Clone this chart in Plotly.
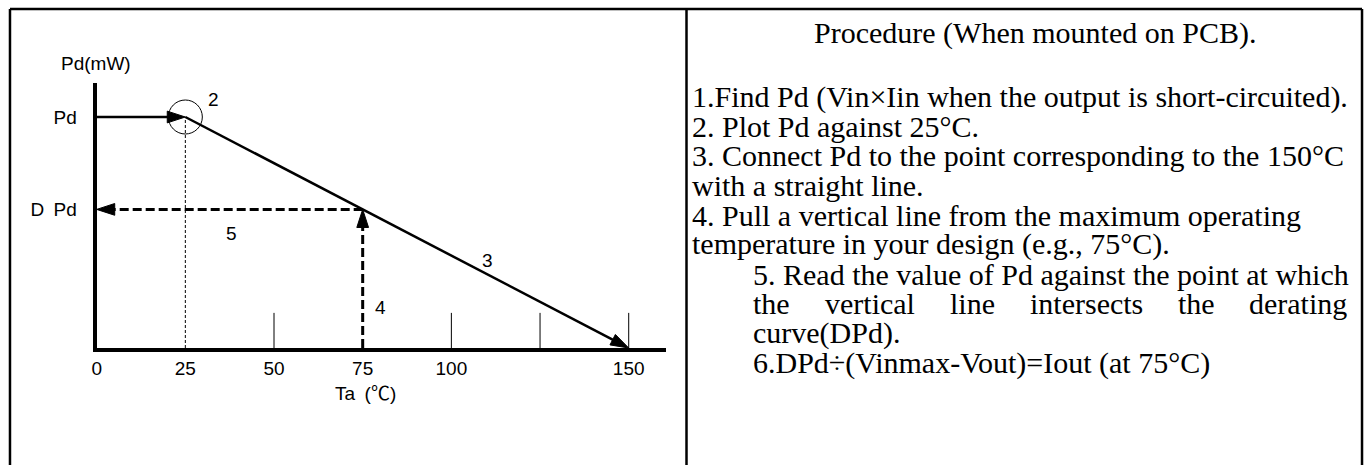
import plotly.graph_objects as go

W, H = 1368, 465

# ---------------- data ----------------
tick_temps = [0, 25, 50, 75, 100, 125, 150]
tick_labels = ["0", "25", "50", "75", "100", "", "150"]
minor_tick_temps = [50, 100, 125, 150]
minor_tick_height = 15.2

pd_value = 100          # Pd (relative units)
t_ref = 25              # Pd plotted against 25 °C
t_zero = 150            # derating reaches 0 at 150 °C
t_design = 75           # example max operating temperature
dpd_value = 60          # derated Pd read at 75 °C

derate_T = [t_ref, t_zero]
derate_P = [pd_value, 0]

y_tick_vals = [dpd_value, pd_value]
y_tick_text = ["D\u2002Pd", "Pd"]

procedure_title = "Procedure (When mounted on PCB)."
procedure_lines = [
    "1.Find Pd (Vin×Iin when the output is short-circuited).",
    "2. Plot Pd against 25°C.",
    "3. Connect Pd to the point corresponding to the 150°C",
    "with a straight line.",
    "4. Pull a vertical line from the maximum operating",
    "temperature in your design (e.g., 75°C).",
    "5. Read the value of Pd against the point at which",
    None,  # justified line handled word by word
    "curve(DPd).",
    "6.DPd÷(Vinmax-Vout)=Iout (at 75°C)",
]
justified_words = ["the", "vertical", "line", "intersects", "the", "derating"]

# ---------------- layout geometry ----------------
X0_PX, X1_PX = 92, 663        # plot area left/right (pixels)
Y_TOP_PX, Y_BOT_PX = 83, 348  # plot area top/bottom (pixels)
PX_PER_X = 3.56
PX_PER_Y = 2.31
x_range = [0, (X1_PX - X0_PX) / PX_PER_X]
y_range = [0, (Y_BOT_PX - Y_TOP_PX) / PX_PER_Y]

SANS = "Liberation Sans, Arial, Noto Sans CJK JP, sans-serif"
SERIF = "Liberation Serif, Times New Roman, serif"
CHART_FS = 19

fig = go.Figure()

def arrow_trace(xs, ys, width, dash="solid", head=19):
    fig.add_trace(go.Scatter(
        x=xs, y=ys, mode="lines+markers",
        line=dict(color="black", width=width, dash=dash),
        marker=dict(symbol="arrow", size=[0] * (len(xs) - 1) + [head],
                    angleref="previous", color="black", opacity=1,
                    line=dict(width=1, color="black")),
        hoverinfo="skip", showlegend=False, cliponaxis=False))

# dotted guide at 25 °C
fig.add_trace(go.Scatter(
    x=[t_ref, t_ref], y=[0, pd_value], mode="lines",
    line=dict(color="black", width=1, dash="3px,2px"),
    hoverinfo="skip", showlegend=False))

# minor tick marks
tx, ty = [], []
for t in minor_tick_temps:
    tx += [t, t, None]
    ty += [0, minor_tick_height, None]
fig.add_trace(go.Scatter(x=tx, y=ty, mode="lines",
                         line=dict(color="black", width=1),
                         hoverinfo="skip", showlegend=False))

# 1. Pd arrow to 25 °C
arrow_trace([0, t_ref], [pd_value, pd_value], 2.5)
# 3. derating line
arrow_trace(derate_T, derate_P, 2.5)
# 4. vertical dashed from 75 °C
arrow_trace([t_design, t_design], [0, dpd_value], 3, dash="9px,4px")
# 5. horizontal dashed to DPd
arrow_trace([t_design, 0], [dpd_value, dpd_value], 3, dash="9px,4px")

shapes = []
# circle around Pd @ 25 °C
shapes.append(dict(type="circle", xref="x", yref="y",
                   xsizemode="pixel", ysizemode="pixel",
                   xanchor=t_ref, yanchor=pd_value,
                   x0=-17, x1=17, y0=-17, y1=17,
                   line=dict(color="black", width=1)))

# outer frame
def px(xp): return xp / W
def py(yp): return 1 - yp / H
frame_w = 2.5
shapes += [
    dict(type="line", xref="paper", yref="paper", x0=px(5), x1=px(1362),
         y0=py(9), y1=py(9), line=dict(color="black", width=frame_w)),
    dict(type="line", xref="paper", yref="paper", x0=px(5), x1=px(5),
         y0=py(9), y1=py(470), line=dict(color="black", width=frame_w)),
    dict(type="line", xref="paper", yref="paper", x0=px(684), x1=px(684),
         y0=py(9), y1=py(470), line=dict(color="black", width=frame_w)),
    dict(type="line", xref="paper", yref="paper", x0=px(1362), x1=px(1362),
         y0=py(9), y1=py(470), line=dict(color="black", width=frame_w)),
]

ann = []
def chart_label(text, xp, yp, size=CHART_FS):
    ann.append(dict(text=text, x=(xp - X0_PX) / PX_PER_X,
                    y=(Y_BOT_PX - yp) / PX_PER_Y, xref="x", yref="y",
                    showarrow=False, font=dict(family=SANS, size=size, color="black"),
                    xanchor="center", yanchor="middle"))

def paper_label(text, xp, yp, size=CHART_FS, family=SANS, anchor="center"):
    ann.append(dict(text=text, x=px(xp), y=py(yp), xref="paper", yref="paper",
                    showarrow=False, font=dict(family=family, size=size, color="black"),
                    xanchor=anchor, yanchor="middle", borderpad=0))

paper_label("Pd(mW)", 91, 63)
paper_label("Ta\u2002(℃)", 362, 393)
chart_label("2", 209, 100)
chart_label("5", 227, 233)
chart_label("3", 484, 260)
chart_label("4", 377, 307)

SERIF_SIZE = 30
def text_line(text, xp, yp, anchor="left"):
    paper_label(text, xp, yp, size=SERIF_SIZE, family=SERIF, anchor=anchor)

text_line(procedure_title, 1034, 33, "center")
line_y0, line_step = 97, 29.5
indent_left, normal_left = 750, 689
word_lefts = [750, 822, 947.5, 1027.5, 1176, 1248]
for i, t in enumerate(procedure_lines):
    yy = line_y0 + i * line_step
    left = normal_left if i < 6 else indent_left
    if t is None:
        for w, xl in zip(justified_words, word_lefts):
            text_line(w, xl, yy, "left")
    else:
        text_line(t, left, yy, "left")

fig.update_layout(
    width=W, height=H, margin=dict(l=0, r=0, t=0, b=0),
    paper_bgcolor="white", plot_bgcolor="rgba(0,0,0,0)",
    showlegend=False, shapes=shapes, annotations=ann,
    xaxis=dict(domain=[X0_PX / W, X1_PX / W], range=x_range,
               showline=True, linewidth=4, linecolor="black",
               showgrid=False, zeroline=False, ticks="",
               tickvals=tick_temps, ticktext=tick_labels,
               tickfont=dict(family=SANS, size=CHART_FS, color="black"),
               ticklabelstandoff=0, fixedrange=True),
    yaxis=dict(domain=[1 - Y_BOT_PX / H, 1 - Y_TOP_PX / H], range=y_range,
               showline=True, linewidth=4, linecolor="black",
               showgrid=False, zeroline=False, ticks="",
               tickvals=y_tick_vals, ticktext=y_tick_text,
               tickfont=dict(family=SANS, size=CHART_FS, color="black"),
               ticklabelstandoff=12, fixedrange=True),
)

fig.write_html("out.html",
               config={"displayModeBar": False, "staticPlot": True},
               post_script="document.body.style.margin='0';document.body.style.padding='0';document.body.style.overflow='hidden';")
